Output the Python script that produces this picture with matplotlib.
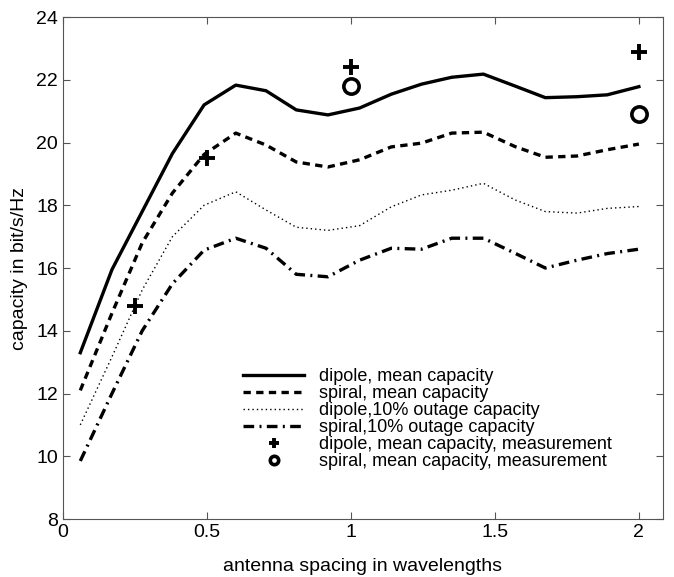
import numpy as np
import matplotlib
matplotlib.use("Agg")
import matplotlib.pyplot as plt

# antenna spacing (wavelengths)
spacing = [0.06, 0.17, 0.275, 0.38, 0.49, 0.60, 0.705, 0.81, 0.92, 1.03,
           1.14, 1.245, 1.35, 1.46, 1.57, 1.675, 1.785, 1.89, 2.0]

dipole_mean = [13.3, 15.95, 17.8, 19.65, 21.2, 21.83, 21.65, 21.04, 20.88, 21.1,
               21.54, 21.86, 22.08, 22.18, 21.8, 21.43, 21.46, 21.52, 21.78]
spiral_mean = [12.1, 14.56, 16.8, 18.39, 19.62, 20.3, 19.92, 19.38, 19.22, 19.45,
               19.86, 19.98, 20.3, 20.33, 19.87, 19.53, 19.57, 19.77, 19.95]
dipole_out = [11.0, 13.17, 15.3, 17.0, 18.0, 18.43, 17.85, 17.3, 17.2, 17.35,
              17.95, 18.33, 18.48, 18.7, 18.17, 17.8, 17.75, 17.9, 17.96]
spiral_out = [9.85, 12.0, 14.0, 15.5, 16.57, 16.95, 16.63, 15.8, 15.72, 16.25,
              16.63, 16.6, 16.95, 16.95, 16.47, 16.0, 16.25, 16.46, 16.6]

meas_dipole_x = [0.25, 0.5, 1.0, 2.0]
meas_dipole_y = [14.8, 19.5, 22.4, 22.9]
meas_spiral_x = [1.0, 2.0]
meas_spiral_y = [21.8, 20.9]

plt.rcParams['font.family'] = ['Liberation Sans', 'DejaVu Sans']

fig = plt.figure(figsize=(6.74, 5.77), dpi=100)
ax = fig.add_axes([0.0935, 0.1005, 0.890, 0.870])

ax.plot(spacing, dipole_mean, 'k-', lw=2.4, label='dipole, mean capacity')
ax.plot(spacing, spiral_mean, 'k', lw=2.4, linestyle=(0, (2.2, 1.6)),
        label='spiral, mean capacity')
ax.plot(spacing, dipole_out, 'k', lw=1.0, linestyle=(0, (1, 2.2)),
        label='dipole,10% outage capacity')
ax.plot(spacing, spiral_out, 'k', lw=2.4, linestyle=(0, (3.2, 1.6, 0.6, 1.6)),
        label='spiral,10% outage capacity')
ax.plot(meas_dipole_x, meas_dipole_y, 'k+', ms=12, mew=2.8, linestyle='none',
        label='dipole, mean capacity, measurement')
ax.plot(meas_spiral_x, meas_spiral_y, 'o', ms=11, mew=2.6, mfc='white', mec='k',
        linestyle='none', label='spiral, mean capacity, measurement')

ax.set_xlim(0, 2.0833)
ax.set_ylim(8, 24)
ax.set_xticks([0, 0.5, 1, 1.5, 2])
ax.set_xticklabels(['0', '0.5', '1', '1.5', '2'])
ax.set_yticks(range(8, 25, 2))
ax.tick_params(direction='in', top=True, right=True, labelsize=14, length=5,
               color='#555555')
for s in ax.spines.values():
    s.set_color('#555555')

ax.set_xlabel('antenna spacing in wavelengths', fontsize=14, labelpad=12)
ax.set_ylabel('capacity in bit/s/Hz', fontsize=14, labelpad=6)

leg = ax.legend(loc='upper left', bbox_to_anchor=(0.285, 0.318), frameon=False,
                fontsize=13, handlelength=3.4, labelspacing=0.0,
                handletextpad=0.8, markerscale=0.55, borderpad=0)

fig.savefig('out.png', dpi=100)
